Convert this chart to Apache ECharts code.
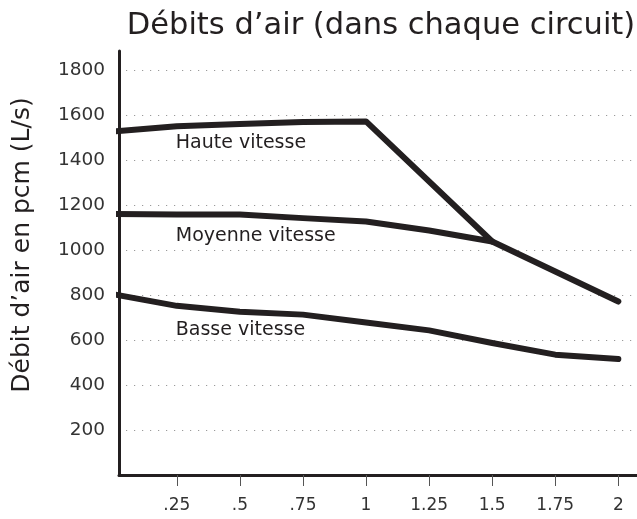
<!DOCTYPE html>
<html>
<head>
<meta charset="utf-8">
<script src="https://cdn.jsdelivr.net/npm/echarts@6/dist/echarts.min.js"></script>
<style>
html,body{margin:0;padding:0;background:#fff;}
#chart{width:637px;height:519px;}
</style>
</head>
<body>
<div id="chart"></div>
<script>
const xTicks = [0.25, 0.5, 0.75, 1, 1.25, 1.5, 1.75, 2];
const xTickLabels = ['.25', '.5', '.75', '1', '1.25', '1.5', '1.75', '2'];
const yTickLabels = ['200', '400', '600', '800', '1000', '1200', '1400', '1600', '1800'];

const hauteX = [0, 0.25, 0.5, 0.75, 1, 1.5];
const hauteY = [1527, 1550, 1561, 1569, 1572, 1038];

const moyenneX = [0, 0.25, 0.5, 0.75, 1, 1.25, 1.5, 1.75, 2];
const moyenneY = [1160, 1158, 1158, 1142, 1127, 1087, 1038, 905, 771];

const basseX = [0, 0.25, 0.5, 0.75, 1, 1.25, 1.5, 1.75, 2];
const basseY = [803, 752, 726, 713, 678, 643, 587, 535, 516];

const seriesNames = ['Haute vitesse', 'Moyenne vitesse', 'Basse vitesse'];
const labelAnchorX = [0.25, 0.25, 0.25];
const labelAnchorY = [1474, 1062, 643];

const titleText = 'Débits d’air (dans chaque circuit)';
const yAxisTitle = 'Débit d’air en pcm (L/s)';

const FONT = 'DejaVu Sans';
const INK = '#231f20';

function pairs(xs, ys) { return xs.map((x, i) => [x, ys[i]]); }

function makeSeries(name, xs, ys, idx) {
  return {
    name: name,
    type: 'line',
    data: pairs(xs, ys),
    showSymbol: false,
    symbol: 'none',
    clip: true,
    lineStyle: { color: INK, width: 6, cap: 'round', join: 'round' },
    z: 3,
    markPoint: {
      symbol: 'circle',
      symbolSize: 0,
      silent: true,
      data: [{ coord: [labelAnchorX[idx], labelAnchorY[idx]] }],
      label: {
        show: true,
        position: 'right',
        distance: -1,
        formatter: name,
        color: INK,
        fontFamily: FONT,
        fontSize: 19,
        backgroundColor: '#fff',
        padding: [0, 0]
      }
    }
  };
}

const chart = echarts.init(document.getElementById('chart'), null, { renderer: 'canvas' });
chart.setOption({
  animation: false,
  backgroundColor: '#fff',
  title: {
    text: titleText,
    left: 376,
    textAlign: 'center',
    top: 6,
    textStyle: { fontFamily: FONT, fontSize: 30.5, fontWeight: 'normal', color: INK }
  },
  graphic: [{
    type: 'text',
    x: 22,
    y: 245,
    rotation: Math.PI / 2,
    style: {
      text: yAxisTitle,
      fill: INK,
      font: '25px "DejaVu Sans"',
      textAlign: 'center',
      textVerticalAlign: 'middle'
    }
  }],
  grid: { left: 119, right: 0, top: 51, bottom: 44, containLabel: false },
  xAxis: {
    type: 'value',
    min: 0.021,
    max: 2.074,
    axisLine: { show: true, lineStyle: { color: INK, width: 3 } },
    axisTick: { show: true, customValues: xTicks, length: 11, lineStyle: { color: '#555', width: 1 } },
    axisLabel: {
      customValues: xTicks,
      formatter: function (v) { const i = xTicks.indexOf(+(+v).toFixed(2)); return i >= 0 ? xTickLabels[i] : ''; },
      color: '#333', fontFamily: FONT, fontSize: 17, margin: 22
    },
    splitLine: { show: false }
  },
  yAxis: {
    type: 'value',
    min: 0,
    max: 1885,
    interval: 200,
    axisLine: { show: true, lineStyle: { color: INK, width: 3 } },
    axisTick: { show: false },
    axisLabel: {
      showMinLabel: false,
      showMaxLabel: false,
      formatter: function (v) { const i = Math.round(v / 200) - 1; return (i >= 0 && i < yTickLabels.length) ? yTickLabels[i] : ''; },
      color: '#333', fontFamily: FONT, fontSize: 18.5, margin: 14
    },
    splitLine: {
      show: true,
      showMinLine: false,
      showMaxLine: false,
      lineStyle: { color: '#9a9a9a', width: 1.2, type: [1.2, 6.8], dashOffset: -7 }
    }
  },
  series: [
    makeSeries(seriesNames[0], hauteX, hauteY, 0),
    makeSeries(seriesNames[1], moyenneX, moyenneY, 1),
    makeSeries(seriesNames[2], basseX, basseY, 2)
  ]
});
</script>
</body>
</html>
